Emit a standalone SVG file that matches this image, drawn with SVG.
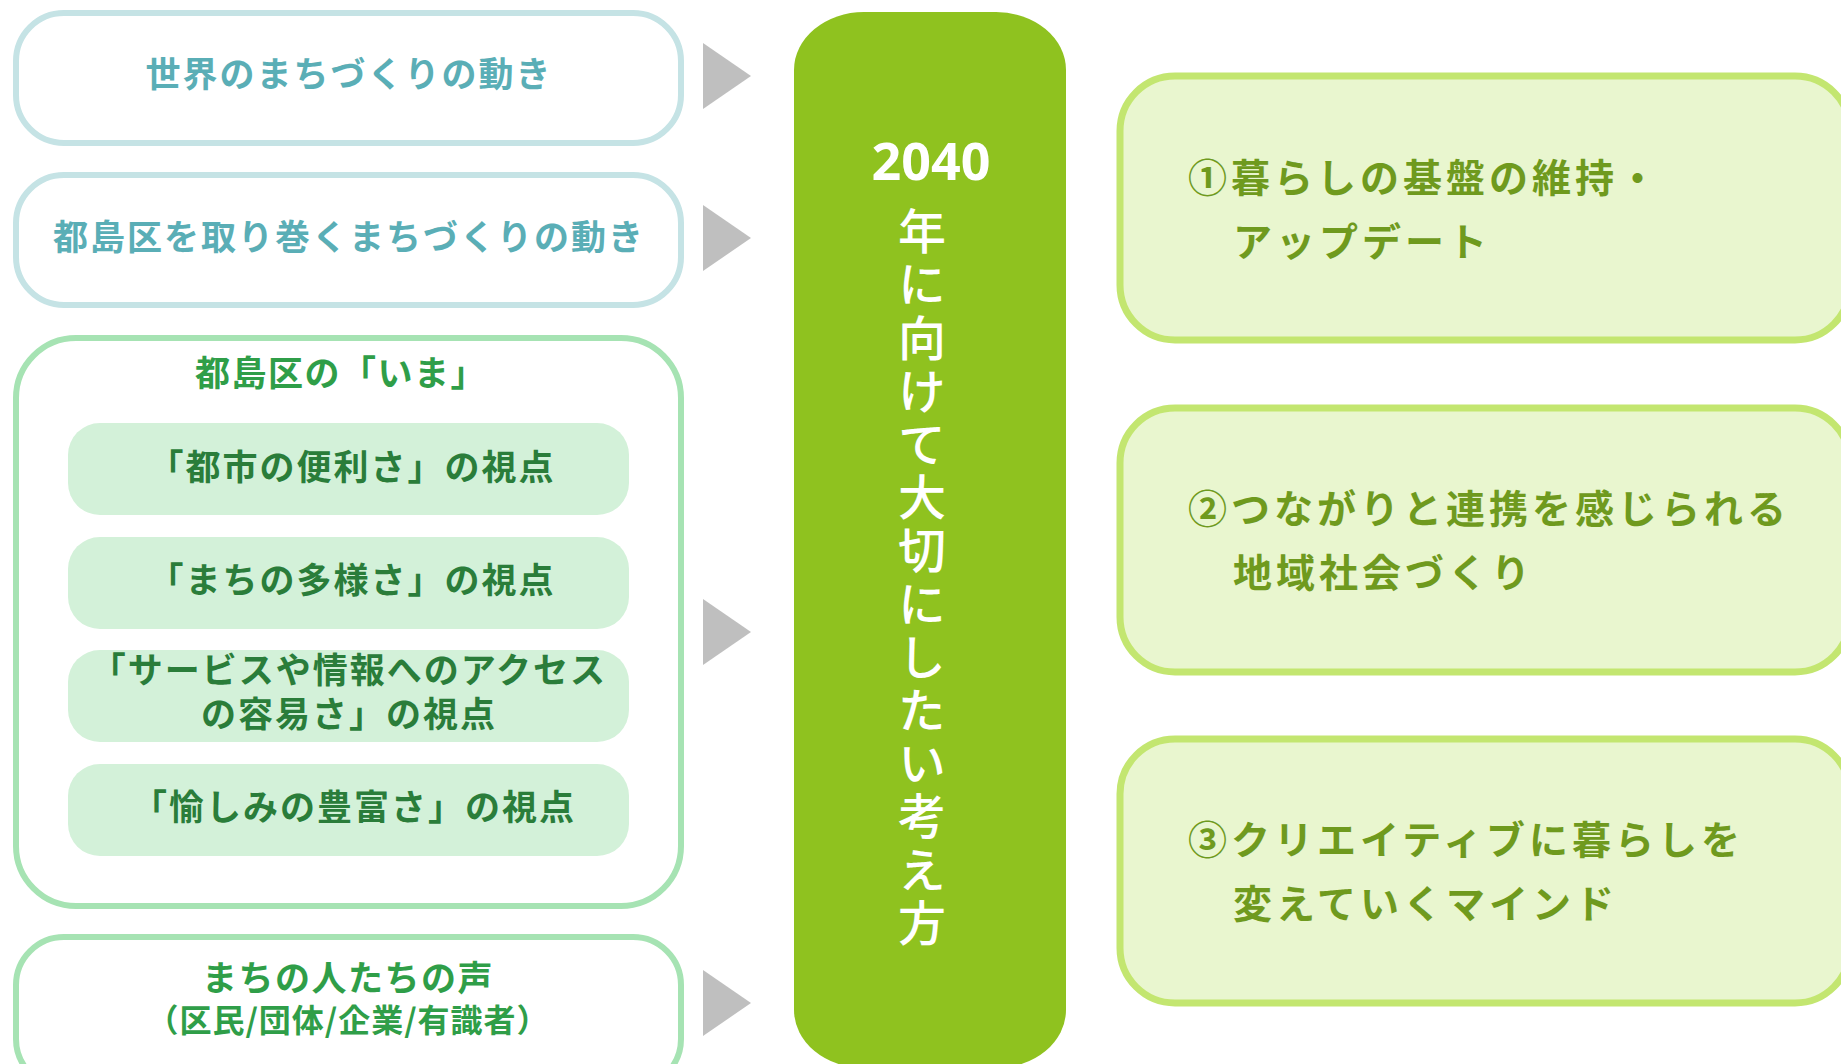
<svg xmlns="http://www.w3.org/2000/svg" width="1841" height="1064" viewBox="0 0 1841 1064">
<style>
text{font-family:"Noto Sans CJK JP","Noto Sans",sans-serif;font-weight:bold;dominant-baseline:central}
.tealbox{fill:#ffffff;stroke:#c5e3e5;stroke-width:6}
.teal{fill:#5aaeb6;font-size:35px;letter-spacing:2px;text-anchor:middle}
.greenbox{fill:#ffffff;stroke:#a6e3b3;stroke-width:6}
.gtitle{fill:#2f9e48;font-size:35px;letter-spacing:1.5px;text-anchor:middle}
.inner{fill:#d3f1d9}
.itext{fill:#2a7d3a;font-size:35px;letter-spacing:2px;text-anchor:middle}
.arrow{fill:#bfbfbf}
.pill{fill:#8fc21f}
.vtext{fill:#ffffff;font-size:48px;font-weight:500;writing-mode:vertical-rl;letter-spacing:5.2px}
.rbox{fill:#e9f6cf;stroke:#c3e670;stroke-width:7}
.rtext{fill:#6f9a1e;font-size:39px;letter-spacing:4px}
</style>
<g id="connectors">
<polygon class="arrow" points="703,43 751,76 703,109"/>
<polygon class="arrow" points="703,205 751,238 703,271"/>
<polygon class="arrow" points="703,599 751,632 703,665"/>
<polygon class="arrow" points="703,970 751,1003 703,1036"/>
</g>
<g id="node-world">
<rect class="tealbox" x="16" y="13" width="665" height="130" rx="48" ry="48"/>
<text class="teal" x="349" y="71">世界のまちづくりの動き</text>
</g>
<g id="node-miyakojima">
<rect class="tealbox" x="16" y="175" width="665" height="130" rx="48" ry="48"/>
<text class="teal" x="349" y="234">都島区を取り巻くまちづくりの動き</text>
</g>
<g id="node-ima">
<rect class="greenbox" x="16" y="338" width="665" height="568" rx="60" ry="60"/>
<text class="gtitle" x="341" y="370">都島区の「いま」</text>
</g>
<g id="node-view1">
<rect class="inner" x="68" y="423" width="561" height="92" rx="32" ry="32"/>
<text class="itext" x="352" y="464">「都市の便利さ」の視点</text>
</g>
<g id="node-view2">
<rect class="inner" x="68" y="537" width="561" height="92" rx="32" ry="32"/>
<text class="itext" x="352" y="577">「まちの多様さ」の視点</text>
</g>
<g id="node-view3">
<rect class="inner" x="68" y="650" width="561" height="92" rx="32" ry="32"/>
<text class="itext"><tspan x="349" y="667">「サービスや情報へのアクセス</tspan><tspan x="349" y="711">の容易さ」の視点</tspan></text>
</g>
<g id="node-view4">
<rect class="inner" x="68" y="764" width="561" height="92" rx="32" ry="32"/>
<text class="itext" x="354" y="804">「愉しみの豊富さ」の視点</text>
</g>
<g id="node-voice">
<rect class="greenbox" x="16" y="937" width="665" height="150" rx="48" ry="48"/>
<text class="gtitle"><tspan x="348" y="975">まちの人たちの声</tspan><tspan x="348" y="1018" style="font-size:32px;letter-spacing:1px">（区民/団体/企業/有識者）</tspan></text>
</g>
<g id="node-center">
<rect class="pill" x="794" y="12" width="272" height="1056" rx="70" ry="58"/>
<text x="931" y="159" style="fill:#ffffff;font-size:52px;text-anchor:middle;font-family:'Noto Sans',sans-serif">2040</text>
<text class="vtext" x="922" y="207">年に向けて大切にしたい考え方</text>
</g>
<g id="node-r1">
<rect class="rbox" x="1120" y="76" width="730" height="264" rx="55" ry="55"/>
<text class="rtext"><tspan x="1188" y="175">①暮らしの基盤の維持・</tspan><tspan x="1233" y="239">アップデート</tspan></text>
</g>
<g id="node-r2">
<rect class="rbox" x="1120" y="408" width="730" height="264" rx="55" ry="55"/>
<text class="rtext"><tspan x="1188" y="506">②つながりと連携を感じられる</tspan><tspan x="1233" y="570">地域社会づくり</tspan></text>
</g>
<g id="node-r3">
<rect class="rbox" x="1120" y="739" width="730" height="264" rx="55" ry="55"/>
<text class="rtext"><tspan x="1188" y="837">③クリエイティブに暮らしを</tspan><tspan x="1233" y="901">変えていくマインド</tspan></text>
</g>
</svg>
